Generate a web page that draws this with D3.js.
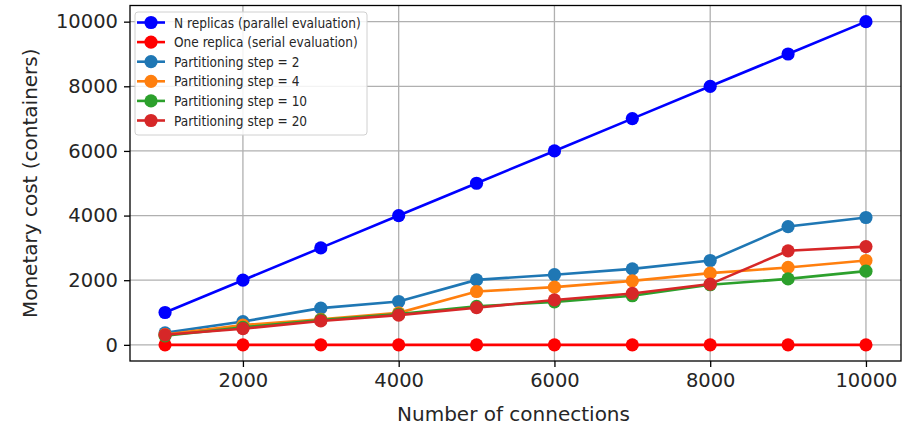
<!DOCTYPE html>
<html>
<head>
<meta charset="utf-8">
<script src="https://cdn.jsdelivr.net/npm/d3@7"></script>
<style>
  html, body { margin: 0; padding: 0; background: #fff; }
  svg text { font-family: "DejaVu Sans", sans-serif; }
</style>
</head>
<body>
<svg id="chart"></svg>
<script>
// data
const connections = [1000, 2000, 3000, 4000, 5000, 6000, 7000, 8000, 9000, 10000];
const nReplicas = [1000, 2000, 3000, 4000, 5000, 6000, 7000, 8000, 9000, 10000];
const oneReplica = [0, 0, 0, 0, 0, 0, 0, 0, 0, 0];
const step2 = [370, 720, 1135, 1340, 2010, 2170, 2350, 2610, 3660, 3940];
const step4 = [320, 610, 790, 990, 1650, 1785, 1980, 2220, 2395, 2610];
const step10 = [280, 540, 770, 950, 1190, 1330, 1520, 1860, 2040, 2280];
const step20 = [310, 500, 740, 920, 1150, 1390, 1590, 1880, 2910, 3040];
const xTicks = [2000, 4000, 6000, 8000, 10000];
const yTicks = [0, 2000, 4000, 6000, 8000, 10000];

const series = [
  { name: "N replicas (parallel evaluation)", values: nReplicas, color: "#0000ff" },
  { name: "One replica (serial evaluation)", values: oneReplica, color: "#ff0000" },
  { name: "Partitioning step = 2", values: step2, color: "#1f77b4" },
  { name: "Partitioning step = 4", values: step4, color: "#ff7f0e" },
  { name: "Partitioning step = 10", values: step10, color: "#2ca02c" },
  { name: "Partitioning step = 20", values: step20, color: "#d62728" }
];

const width = 904, height = 427;
const plotL = 130, plotR = 901, plotT = 5.5, plotB = 361;

const svg = d3.select("#chart").attr("width", width).attr("height", height);

const x = d3.scaleLinear().domain([550, 10450]).range([plotL, plotR]);
const y = d3.scaleLinear().domain([-500, 10500]).range([plotB, plotT]);

// grid
const grid = svg.append("g").attr("stroke", "#b0b0b0").attr("stroke-width", 1.3);
grid.selectAll(".gx").data(xTicks).join("line")
  .attr("x1", d => x(d)).attr("x2", d => x(d)).attr("y1", plotT).attr("y2", plotB);
grid.selectAll(".gy").data(yTicks).join("line")
  .attr("y1", d => y(d)).attr("y2", d => y(d)).attr("x1", plotL).attr("x2", plotR);

// axes
const xAxis = svg.append("g").attr("transform", `translate(0,${plotB})`)
  .call(d3.axisBottom(x).tickValues(xTicks).tickFormat(d3.format("d")).tickSizeOuter(0).tickSize(6).tickPadding(6));
const yAxis = svg.append("g").attr("transform", `translate(${plotL},0)`)
  .call(d3.axisLeft(y).tickValues(yTicks).tickFormat(d3.format("d")).tickSizeOuter(0).tickSize(6).tickPadding(6));
[xAxis, yAxis].forEach(a => {
  a.select(".domain").remove();
  a.selectAll("line").attr("stroke", "#000").attr("stroke-width", 1.3);
  a.selectAll("text").attr("font-size", 19.5).attr("fill", "#262626")
    .attr("font-family", "DejaVu Sans, sans-serif");
});

// lines and markers
const line = d3.line().x((d, i) => x(connections[i])).y(d => y(d));
series.forEach(s => {
  const g = svg.append("g");
  g.append("path").datum(s.values)
    .attr("d", line).attr("fill", "none")
    .attr("stroke", s.color).attr("stroke-width", 2.6);
  g.selectAll("circle").data(s.values).join("circle")
    .attr("cx", (d, i) => x(connections[i])).attr("cy", d => y(d))
    .attr("r", 6.6).attr("fill", s.color);
});

// frame
svg.append("rect")
  .attr("x", plotL).attr("y", plotT)
  .attr("width", plotR - plotL).attr("height", plotB - plotT)
  .attr("fill", "none").attr("stroke", "#000").attr("stroke-width", 1.3);

// axis labels
svg.append("text")
  .attr("x", (plotL + plotR) / 2 - 2).attr("y", 421)
  .attr("text-anchor", "middle").attr("font-size", 20).attr("fill", "#262626")
  .text("Number of connections");
svg.append("text")
  .attr("transform", `translate(37,${(plotT + plotB) / 2}) rotate(-90)`)
  .attr("text-anchor", "middle").attr("font-size", 20).attr("fill", "#262626")
  .text("Monetary cost (containers)");

// legend
const legend = svg.append("g").attr("transform", "translate(135,12)");
legend.append("rect")
  .attr("width", 232).attr("height", 123).attr("rx", 3)
  .attr("fill", "#fff").attr("fill-opacity", 0.85)
  .attr("stroke", "#d0d0d0").attr("stroke-width", 1);
const rows = legend.selectAll(".row").data(series).join("g")
  .attr("transform", (d, i) => `translate(0,${10.5 + i * 19.6})`);
rows.append("line").attr("x1", 2).attr("x2", 30)
  .attr("stroke", d => d.color).attr("stroke-width", 2.6);
rows.append("circle").attr("cx", 16).attr("r", 6.6).attr("fill", d => d.color);
rows.append("text")
  .attr("transform", "translate(39,5) scale(0.84,1)")
  .attr("font-size", 14.5).attr("fill", "#262626")
  .text(d => d.name);
</script>
</body>
</html>
